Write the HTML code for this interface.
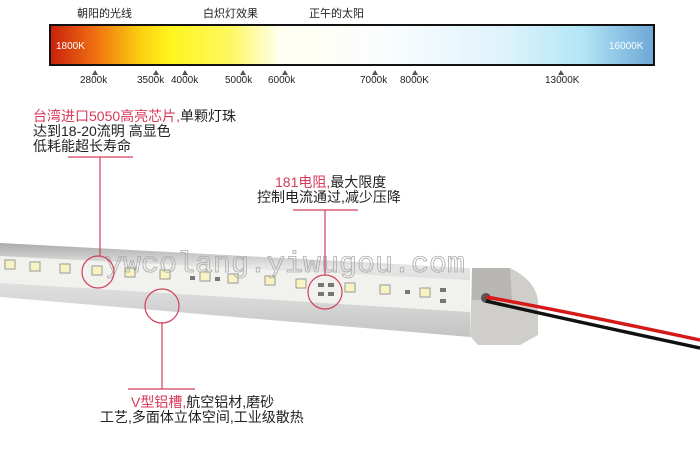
<!DOCTYPE html>
<html><head><meta charset="utf-8"><style>
body{margin:0;background:#fff;}
svg{display:block;font-family:"Liberation Sans","Noto Sans CJK SC",sans-serif;}
</style></head><body>
<svg width="700" height="457" viewBox="0 0 700 457" xmlns="http://www.w3.org/2000/svg">
<defs>
<linearGradient id="g" x1="0" x2="1">
<stop offset="0" stop-color="#c8200c"/>
<stop offset="0.07" stop-color="#ee6a10"/>
<stop offset="0.15" stop-color="#fbd010"/>
<stop offset="0.2" stop-color="#fff51e"/>
<stop offset="0.3" stop-color="#fdf860"/>
<stop offset="0.38" stop-color="#fffef0"/>
<stop offset="0.55" stop-color="#fbfdff"/>
<stop offset="0.75" stop-color="#dff3fb"/>
<stop offset="0.88" stop-color="#b3e6f7"/>
<stop offset="1" stop-color="#6ea7d6"/>
</linearGradient>
<linearGradient id="bar" x1="0" y1="0" x2="0" y2="1">
<stop offset="0" stop-color="#aaa"/>
<stop offset="0.25" stop-color="#e6e6e6"/>
<stop offset="0.6" stop-color="#d8d8d8"/>
<stop offset="1" stop-color="#c4c4c4"/>
</linearGradient>
</defs>
<g font-size="11" fill="#222">
<text x="77" y="17">朝阳的光线</text>
<text x="203" y="17">白炽灯效果</text>
<text x="309" y="17">正午的太阳</text>
</g>
<rect x="50" y="25" width="604" height="40" fill="url(#g)" stroke="#111" stroke-width="2"/>
<text x="56" y="49" font-size="10" fill="#fff">1800K</text>
<text x="609" y="49" font-size="10" fill="#fff">16000K</text>
<g fill="#555">
<path d="M95 70l-3 5h6z"/><path d="M156 70l-3 5h6z"/><path d="M185 70l-3 5h6z"/><path d="M243 70l-3 5h6z"/><path d="M285 70l-3 5h6z"/><path d="M375 70l-3 5h6z"/><path d="M415 70l-3 5h6z"/><path d="M561 70l-3 5h6z"/>
</g>
<g font-size="10" fill="#222">
<text x="80" y="83">2800k</text><text x="137" y="83">3500k</text><text x="171" y="83">4000k</text><text x="225" y="83">5000k</text><text x="268" y="83">6000k</text><text x="360" y="83">7000k</text><text x="400" y="83">8000K</text><text x="545" y="83">13000K</text>
</g>
<!-- bar -->
<path d="M0 243 L470 268 L470 337 L0 297 Z" fill="url(#bar)"/>
<path d="M0 256 L470 280 L470 312 L0 283 Z" fill="#f1f1ee"/>
<g fill="#f8f3c0" stroke="#999" stroke-width="1">
<rect x="5" y="260" width="10" height="9"/><rect x="30" y="262" width="10" height="9"/><rect x="60" y="264" width="10" height="9"/><rect x="92" y="266" width="10" height="9"/><rect x="125" y="268" width="10" height="9"/><rect x="160" y="270" width="10" height="9"/><rect x="200" y="272" width="10" height="9"/><rect x="228" y="274" width="10" height="9"/><rect x="265" y="276" width="10" height="9"/><rect x="296" y="279" width="10" height="9"/><rect x="345" y="283" width="10" height="9"/><rect x="380" y="285" width="10" height="9"/><rect x="420" y="288" width="10" height="9"/>
</g>
<g fill="#777">
<rect x="190" y="276" width="5" height="4"/><rect x="215" y="277" width="5" height="4"/><rect x="318" y="283" width="6" height="4"/><rect x="318" y="292" width="6" height="4"/><rect x="328" y="283" width="6" height="4"/><rect x="328" y="292" width="6" height="4"/><rect x="405" y="290" width="5" height="4"/><rect x="440" y="288" width="6" height="4"/><rect x="440" y="299" width="6" height="4"/>
</g>
<!-- end cap -->
<path d="M472 268 L510 268 Q535 280 538 300 L538 335 L520 345 L478 345 L470 336 Z" fill="#cfcecb"/>
<path d="M472 268 L510 268 L512 300 L472 300 Z" fill="#b8b7b3"/>
<circle cx="486" cy="298" r="5" fill="#555"/>
<path d="M486 301 Q560 318 700 348" stroke="#111" stroke-width="3.5" fill="none"/>
<path d="M486 297 Q560 310 700 340" stroke="#d61818" stroke-width="3.5" fill="none"/>
<!-- watermark -->
<text x="105" y="272" font-family="Liberation Mono,monospace" font-size="30" fill="none" stroke="#aaa" stroke-width="0.8">ywcolang.yiwugou.com</text>
<!-- annotations -->
<g stroke="#d0405a" stroke-width="1.2" fill="none">
<path d="M68 157H133M100 157V256"/><circle cx="98" cy="272" r="16"/>
<path d="M293 210H358M325 210V275"/><circle cx="325" cy="292" r="17"/>
<path d="M128 389H195M162 389V322"/><circle cx="162" cy="306" r="17"/>
</g>
<g font-size="14" fill="#222">
<text x="33" y="121"><tspan fill="#d93a5a">台湾进口5050高亮芯片,</tspan>单颗灯珠</text>
<text x="33" y="136">达到18-20流明 高显色</text>
<text x="33" y="151">低耗能超长寿命</text>
<text x="275" y="187"><tspan fill="#d93a5a">181电阻,</tspan>最大限度</text>
<text x="257" y="202">控制电流通过,减少压降</text>
<text x="131" y="407"><tspan fill="#d93a5a">V型铝槽,</tspan>航空铝材,磨砂</text>
<text x="100" y="422">工艺,多面体立体空间,工业级散热</text>
</g>
</svg>
</body></html>
